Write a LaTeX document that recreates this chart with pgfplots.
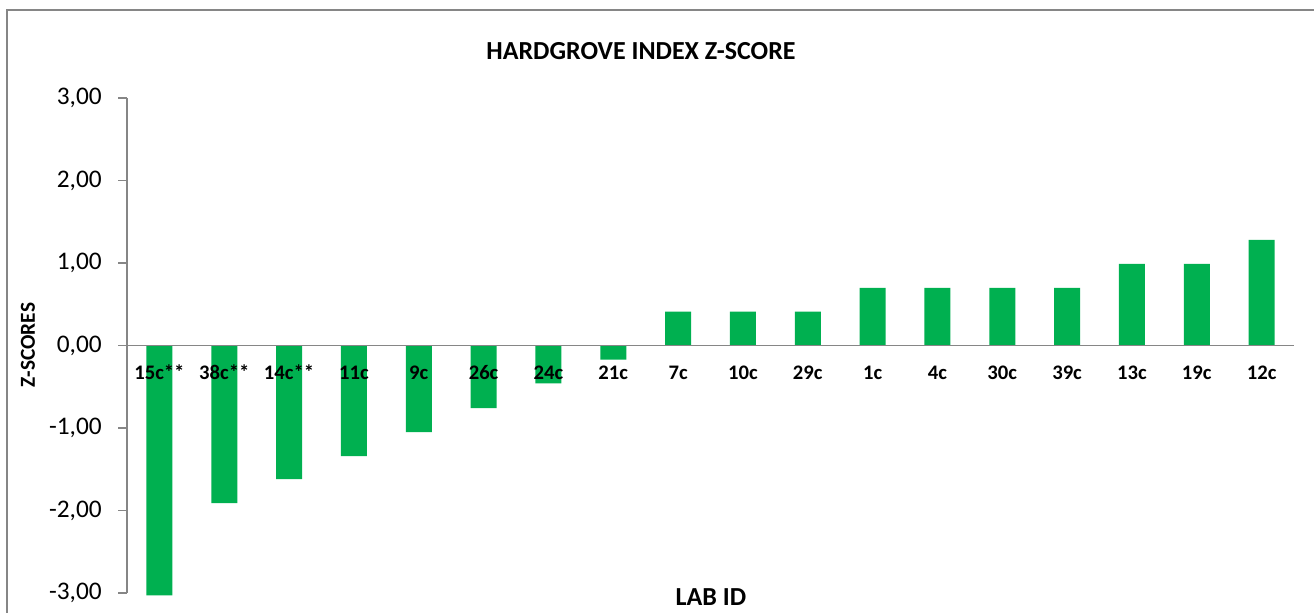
\documentclass[border=0pt]{standalone}
\usepackage{pgfplots}
\pgfplotsset{compat=1.18}
\usepackage{fontspec}
\setmainfont{Carlito}
\definecolor{bargreen}{HTML}{00B050}
\definecolor{axgray}{HTML}{868686}
\begin{document}
\begin{tikzpicture}[x=0.75pt,y=0.75pt]
\useasboundingbox (0,0) rectangle (1314,612);
\fill[white] (0,0) rectangle (1314,612);
\draw[axgray, line width=1.5pt] (7,-20) -- (7,602) -- (1330,602);
\begin{axis}[
  at={(95.25pt,14.25pt)}, anchor=south west,
  scale only axis, width=875.25pt, height=371.25pt,
  xmin=-0.5, xmax=17.5, ymin=-3, ymax=3,
  axis on top,
  axis x line=middle, axis y line=left,
  axis line style={-, axgray, line width=1.1pt},
  ytick={-3,-2,-1,0,1,2,3},
  yticklabels={{-3,00},{-2,00},{-1,00},{0,00},{1,00},{2,00},{3,00}},
  ytick style={axgray, line width=1.1pt},
  tick align=outside, major tick length=6.75pt,
  yticklabel style={font=\fontsize{19}{22}\selectfont, anchor=east, inner sep=0pt, xshift=-12pt},
  xtick={0,...,17},
  xticklabels={15c**,38c**,14c**,11c,9c,26c,24c,21c,7c,10c,29c,1c,4c,30c,39c,13c,19c,12c},
  xtick style={draw=none},
  xticklabel style={font=\bfseries\fontsize{15.5}{18}\selectfont, anchor=center, inner sep=0pt, yshift=-13.5pt},
  clip=false,
]
\addplot[ybar, bar width=19.5pt, fill=bargreen, draw=none] coordinates {
(0,-3.03) (1,-1.91) (2,-1.62) (3,-1.34) (4,-1.05) (5,-0.76) (6,-0.46) (7,-0.17)
(8,0.41) (9,0.41) (10,0.41) (11,0.70) (12,0.70) (13,0.70) (14,0.70)
(15,0.99) (16,0.99) (17,1.28)};
\end{axis}
\node[font=\bfseries\fontsize{19.5}{23}\selectfont] at (641,561) {HARDGROVE INDEX Z-SCORE};
\node[font=\bfseries\fontsize{16}{19}\selectfont, rotate=90] at (28,267) {Z-SCORES};
\node[font=\bfseries\fontsize{19.5}{23}\selectfont] at (711,15) {LAB ID};
\end{tikzpicture}
\end{document}
